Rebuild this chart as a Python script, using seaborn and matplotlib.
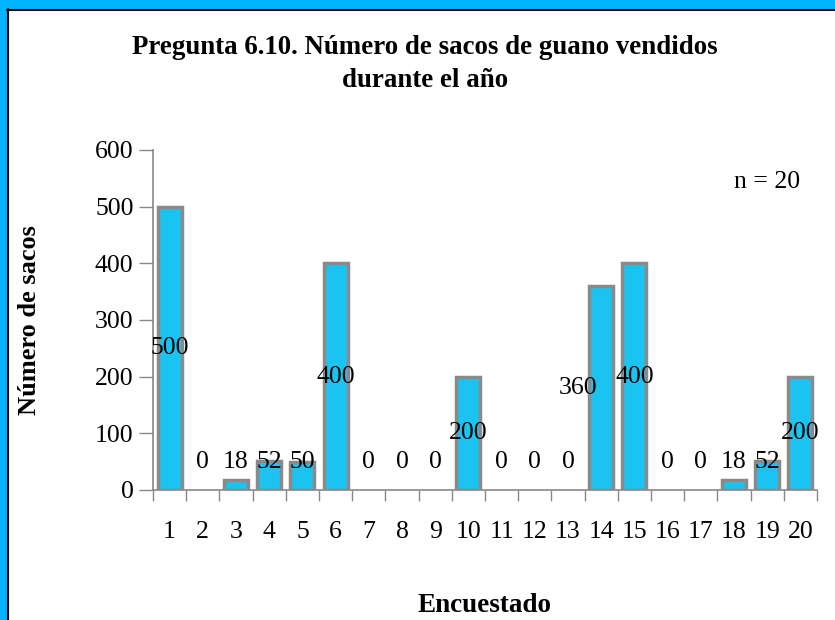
import matplotlib
matplotlib.use("Agg")
import matplotlib.pyplot as plt
import seaborn as sns
import numpy as np
from matplotlib.ticker import FixedLocator

encuestados = [str(i) for i in range(1, 21)]
sacos = [500, 0, 18, 52, 50, 400, 0, 0, 0, 200, 0, 0, 0, 360, 400, 0, 0, 18, 52, 200]
title = "Pregunta 6.10. Número de sacos de guano vendidos\ndurante el año"
xlabel = "Encuestado"
ylabel = "Número de sacos"
note = "n = 20"
yticks = [0, 100, 200, 300, 400, 500, 600]

sns.set_theme(style="white")
plt.rcParams['font.family'] = ['Liberation Serif', 'DejaVu Serif']
plt.rcParams['text.color'] = 'black'
plt.rcParams['xtick.color'] = 'black'
plt.rcParams['ytick.color'] = 'black'

fig = plt.figure(figsize=(8.35, 6.2), dpi=100)
fig.patch.set_facecolor("white")
border = "#00B4FF"
fig.patches.append(plt.Rectangle((0, 1 - 9/620), 1, 9/620, transform=fig.transFigure, color=border, zorder=0))
fig.patches.append(plt.Rectangle((0, 0), 7/835, 1, transform=fig.transFigure, color=border, zorder=0))
fig.add_artist(plt.Line2D([7.5/835, 7.5/835], [0, 1 - 9/620], transform=fig.transFigure, color="black", lw=1.5))
fig.add_artist(plt.Line2D([7/835, 1], [1 - 9.5/620, 1 - 9.5/620], transform=fig.transFigure, color="black", lw=1.5))

ax = fig.add_axes([153/835, 1 - 490/620, (817 - 153)/835, (490 - 150)/620])
sns.barplot(x=encuestados, y=sacos, color="#1BC3F0", edgecolor="#8A8A8A",
            linewidth=2.5, width=0.72, saturation=1, ax=ax)
for p in ax.patches:
    if p.get_height() == 0:
        p.set_visible(False)
ax.set_xlim(-0.5, len(encuestados) - 0.5)
ax.set_ylim(0, 600)
ax.set_yticks(yticks)
ax.set_yticklabels([str(t) for t in yticks], fontsize=18.5)
ax.tick_params(axis='y', which='major', direction='out', length=10, width=1, color="#888888",
               labelcolor="black", left=True, pad=4)
ax.tick_params(axis='x', which='major', length=0, pad=22, labelsize=18.5, labelcolor="black")
ax.xaxis.set_minor_locator(FixedLocator(np.arange(-0.5, len(encuestados), 1.0)))
ax.tick_params(axis='x', which='minor', direction='out', length=8, width=1, color="#888888", bottom=True)
for s in ["top", "right"]:
    ax.spines[s].set_visible(False)
for s in ["left", "bottom"]:
    ax.spines[s].set_color("#888888")
    ax.spines[s].set_linewidth(1.2)

for i, v in enumerate(sacos):
    xoff = -0.7 if encuestados[i] == "14" else 0
    ypos = max(v / 2, 50)
    ax.text(i + xoff, ypos, str(v), ha="center", va="center", fontsize=18.5, color="black")

ax.text(0.925, 0.905, note, transform=ax.transAxes, ha="center", va="center", fontsize=18.5, color="black")
fig.text(0.509, 1 - 64/620, title, ha="center", va="center", fontsize=19.4, fontweight="bold",
         linespacing=1.4, color="black")
fig.text(485/835, 1 - 605/620, xlabel, ha="center", va="center", fontsize=19.5, fontweight="bold", color="black")
fig.text(30/835, 1 - 320/620, ylabel, ha="center", va="center", rotation=90, fontsize=19,
         fontweight="bold", color="black")

fig.savefig("out.png", dpi=100, facecolor="white")
